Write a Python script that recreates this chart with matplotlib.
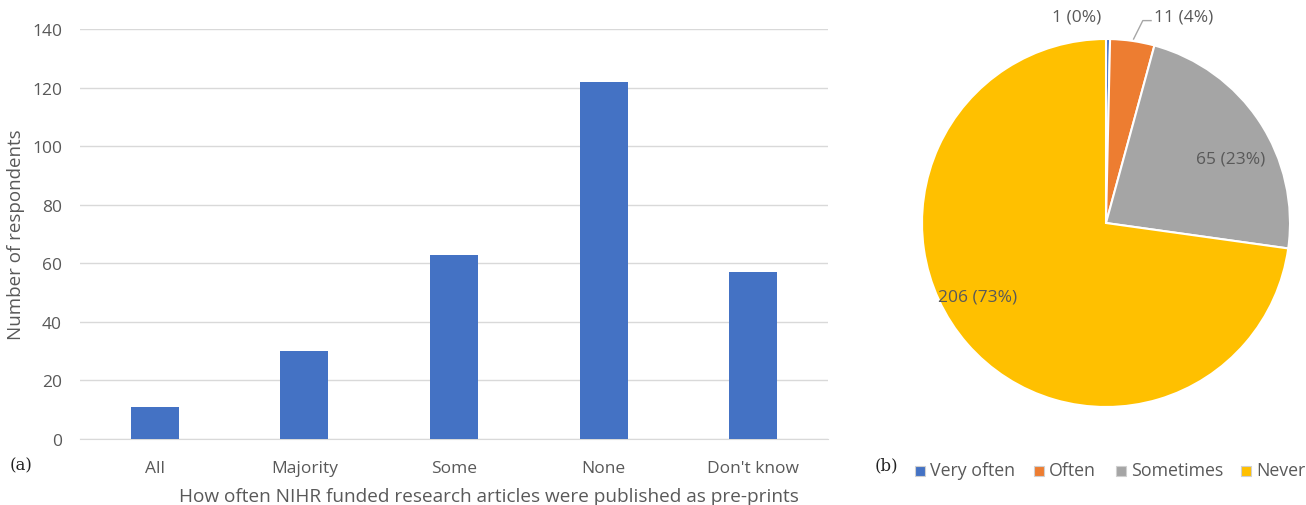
import numpy as np
import matplotlib
matplotlib.use("Agg")
import matplotlib.pyplot as plt
from matplotlib.patches import Rectangle

plt.rcParams["font.family"] = ["Open Sans", "DejaVu Sans"]

W, H = 1306, 506
TXT = "#595959"
GRID = "#d9d9d9"

# (a) frequency of pre-print publication
freq_labels = ["All", "Majority", "Some", "None", "Don't know"]
freq_counts = [11, 30, 63, 122, 57]

# (b) pie shares
pie_labels = ["Very often", "Often", "Sometimes", "Never"]
pie_counts = [1, 11, 65, 206]
pie_colors = ["#4472c4", "#ed7d31", "#a5a5a5", "#ffc000"]


def box(x0, y0, x1, y1):
    # pixel box (top-left origin) -> figure fraction rect
    return [x0 / W, 1 - y1 / H, (x1 - x0) / W, (y1 - y0) / H]


fig = plt.figure(figsize=(W / 100, H / 100), dpi=100)

ax = fig.add_axes(box(80, 30, 828, 440))
x = np.arange(len(freq_labels))
ax.bar(x, freq_counts, width=0.32, color="#4472c4", zorder=3)
ax.set_xlim(-0.5, len(freq_labels) - 0.5)
ax.set_ylim(0, 140)
ax.set_yticks(range(0, 141, 20))
ax.set_xticks(x)
ax.set_xticklabels(freq_labels)
ax.tick_params(length=0, labelsize=12.5, colors=TXT)
ax.tick_params(axis="x", pad=15)
ax.tick_params(axis="y", pad=13)
ax.grid(axis="y", color=GRID, lw=1, zorder=0)
for s in ["top", "right", "left"]:
    ax.spines[s].set_visible(False)
ax.spines["bottom"].set_color(GRID)
ax.set_ylabel("Number of respondents", fontsize=13.5, color=TXT, labelpad=5)
ax.set_xlabel("How often NIHR funded research articles were published as pre-prints",
              fontsize=13.7, color=TXT)
ax.xaxis.set_label_coords(0.547, -0.118)

fig.text(10 / W, 1 - 466 / H, "(a)", fontsize=12, family="DejaVu Serif",
         color="#222222", va="center")
fig.text(875 / W, 1 - 466 / H, "(b)", fontsize=12, family="DejaVu Serif",
         color="#222222", va="center")

# pie, drawn clockwise from 12 o'clock
r = 184
pax = fig.add_axes(box(1106 - r, 224 - r, 1106 + r, 224 + r))
wedges, _ = pax.pie(pie_counts, colors=pie_colors, startangle=90, counterclock=False,
                    radius=1.0, wedgeprops=dict(edgecolor="white", linewidth=1.5))
pax.set_xlim(-1, 1)
pax.set_ylim(-1, 1)
pax.set_aspect("equal")
pax.axis("off")
tot = sum(pie_counts)
pct = [f"{c} ({round(100 * c / tot)}%)" for c in pie_counts]
pax.text(-0.16, 1.12, pct[0], fontsize=12.5, color=TXT, ha="center", va="center")
pax.text(0.42, 1.12, pct[1], fontsize=12.5, color=TXT, ha="center", va="center")
pax.plot([0.15, 0.2, 0.245], [1.0, 1.1, 1.1], color="#a6a6a6", lw=1, clip_on=False)
pax.text(0.68, 0.35, pct[2], fontsize=12.5, color=TXT, ha="center", va="center")
pax.text(-0.7, -0.4, pct[3], fontsize=12.5, color=TXT, ha="center", va="center")

# legend row
lx = [915, 1034, 1116, 1241]
for xi, lab, col in zip(lx, pie_labels, pie_colors):
    fig.patches.append(Rectangle((xi / W, 1 - 477 / H), 10 / W, 10 / H, facecolor=col,
                                 edgecolor="#d0d0d0", lw=0.8, transform=fig.transFigure))
    fig.text((xi + 15) / W, 1 - 471 / H, lab, fontsize=12.8, color=TXT, va="center")

fig.savefig("out.png", dpi=100)
